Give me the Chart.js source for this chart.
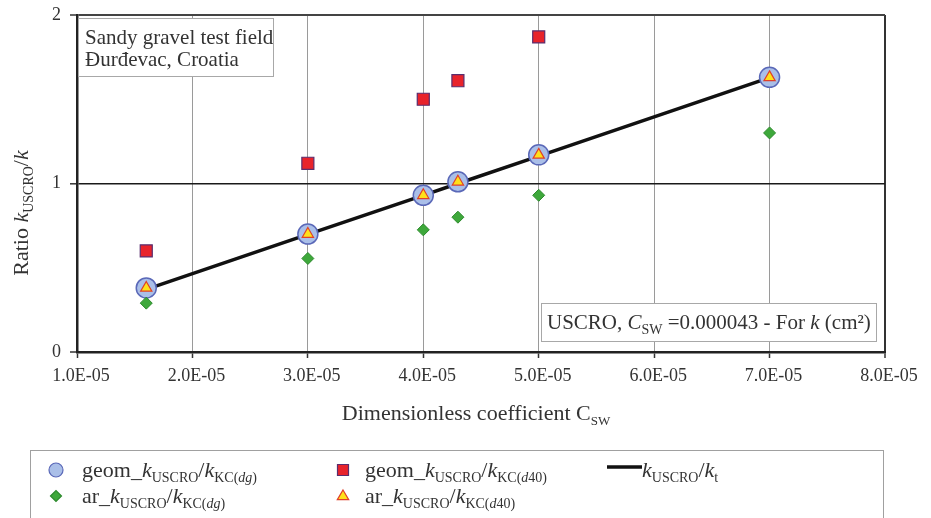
<!DOCTYPE html>
<html>
<head>
<meta charset="utf-8">
<script src="https://cdn.jsdelivr.net/npm/chart.js@4/dist/chart.umd.min.js"></script>
<style>
html,body{margin:0;padding:0;background:#fff;}
#wrap{width:931px;height:518px;position:relative;}
</style>
</head>
<body>
<div id="wrap"><canvas id="c" width="931" height="518"></canvas></div>
<script>
// ---- data ----
const csw      = [1.6e-5, 3.0e-5, 4.0e-5, 4.3e-5, 5.0e-5, 7.0e-5];
const geomDg   = [0.38, 0.70, 0.93, 1.01, 1.17, 1.63];
const geomD40  = [0.60, 1.12, 1.50, 1.61, 1.87, null];
const arDg     = [0.29, 0.555, 0.725, 0.80, 0.93, 1.30];
const arD40    = [0.38, 0.70, 0.93, 1.01, 1.17, 1.63];
const kRatioT  = [0.372, 0.698, 0.930, 1.000, 1.163, 1.628];
const xTickLabels = ['1.0E-05','2.0E-05','3.0E-05','4.0E-05','5.0E-05','6.0E-05','7.0E-05','8.0E-05'];
const yTickLabels = ['0','1','2'];

const FONT = '"Liberation Serif","Times New Roman",serif';
const TXT = '#333';

function pts(ys){ return csw.map((x,i)=>({x:x, y:ys[i]})).filter(p=>p.y!==null); }

function richWidth(ctx, parts, base, sub){
  let w=0;
  for(const p of parts){ ctx.font=(p.i?'italic ':'')+(p.s?sub:base)+'px '+FONT; w+=ctx.measureText(p.t).width; }
  return w;
}
function drawRich(ctx, x, y, parts, base, sub){
  ctx.textBaseline='alphabetic'; ctx.textAlign='left';
  let cx=x;
  for(const p of parts){
    const size=p.s?sub:base;
    ctx.font=(p.i?'italic ':'')+size+'px '+FONT;
    ctx.fillText(p.t, cx, y+(p.s?base*0.22:0));
    cx+=ctx.measureText(p.t).width;
  }
  return cx-x;
}

const legendItems = [
  {style:'circle', fill:'#aabfe8', stroke:'#5a68b8', r:7, col:0, row:0,
   parts:[{t:'geom_'},{t:'k',i:1},{t:'USCRO',s:1},{t:'/'},{t:'k',i:1},{t:'KC(',s:1},{t:'dg',s:1,i:1},{t:')',s:1}]},
  {style:'rect', fill:'#e8232b', stroke:'#5a2d6e', r:5.5, col:1, row:0,
   parts:[{t:'geom_'},{t:'k',i:1},{t:'USCRO',s:1},{t:'/'},{t:'k',i:1},{t:'KC(',s:1},{t:'d',s:1,i:1},{t:'40)',s:1}]},
  {style:'line', col:2, row:0,
   parts:[{t:'k',i:1},{t:'USCRO',s:1},{t:'/'},{t:'k',i:1},{t:'t',s:1}]},
  {style:'diamond', fill:'#3ea83b', stroke:'#2d8a2d', r:5.5, col:0, row:1,
   parts:[{t:'ar_'},{t:'k',i:1},{t:'USCRO',s:1},{t:'/'},{t:'k',i:1},{t:'KC(',s:1},{t:'dg',s:1,i:1},{t:')',s:1}]},
  {style:'triangle', fill:'#ffe01a', stroke:'#e0402a', r:6, col:1, row:1,
   parts:[{t:'ar_'},{t:'k',i:1},{t:'USCRO',s:1},{t:'/'},{t:'k',i:1},{t:'KC(',s:1},{t:'d',s:1,i:1},{t:'40)',s:1}]}
];

function drawMarker(ctx, it, x, y){
  ctx.save();
  ctx.fillStyle=it.fill; ctx.strokeStyle=it.stroke; ctx.lineWidth=1.2;
  ctx.beginPath();
  if(it.style==='circle'){ ctx.arc(x,y,it.r,0,Math.PI*2); }
  else if(it.style==='rect'){ ctx.rect(x-it.r,y-it.r,2*it.r,2*it.r); }
  else if(it.style==='diamond'){ ctx.moveTo(x-it.r,y); ctx.lineTo(x,y-it.r); ctx.lineTo(x+it.r,y); ctx.lineTo(x,y+it.r); ctx.closePath(); }
  else if(it.style==='triangle'){ ctx.moveTo(x,y-it.r); ctx.lineTo(x+it.r*0.95,y+it.r*0.6); ctx.lineTo(x-it.r*0.95,y+it.r*0.6); ctx.closePath(); }
  ctx.fill(); ctx.stroke();
  ctx.restore();
}

const decor = {
  id:'decor',
  beforeDatasetsDraw(chart){
    const ctx=chart.ctx;
    ctx.save();
    // annotation box 1
    ctx.fillStyle='#fff'; ctx.strokeStyle='#a8a8a8'; ctx.lineWidth=1;
    ctx.fillRect(78,18,195,58); ctx.strokeRect(78.5,18.5,195,58);
    ctx.fillStyle=TXT; ctx.font='21px '+FONT; ctx.textBaseline='alphabetic'; ctx.textAlign='left';
    ctx.fillText('Sandy gravel test field', 85, 44);
    ctx.fillText('\u0110ur\u0111evac, Croatia', 85, 66);
    // annotation box 2
    ctx.fillStyle='#fff';
    ctx.fillRect(541,303,335,38); ctx.strokeRect(541.5,303.5,335,38);
    ctx.fillStyle=TXT;
    drawRich(ctx, 547, 329, [{t:'USCRO, '},{t:'C',i:1},{t:'SW',s:1},{t:' =0.000043 - For '},{t:'k',i:1},{t:' (cm\u00b2)'}], 21, 14);
    ctx.restore();
  },
  afterDraw(chart){
    const ctx=chart.ctx;
    ctx.save();
    ctx.fillStyle=TXT;
    // x title
    const xp=[{t:'Dimensionless coefficient C'},{t:'SW',s:1}];
    const xw=richWidth(ctx,xp,22,13);
    drawRich(ctx, 476-xw/2, 420, xp, 22, 13);
    // y title
    const yp=[{t:'Ratio '},{t:'k',i:1},{t:'USCRO',s:1},{t:'/'},{t:'k',i:1}];
    const yw=richWidth(ctx,yp,22,14);
    ctx.translate(28,213); ctx.rotate(-Math.PI/2);
    drawRich(ctx, -yw/2, 0, yp, 22, 14);
    ctx.restore();
    // legend
    ctx.save();
    ctx.strokeStyle='#a0a0a0'; ctx.lineWidth=1;
    ctx.strokeRect(30.5,450.5,853,80);
    const colMarker=[56,343,607], colText=[82,365,642], rowY=[470,496], rowBase=[477,503];
    for(const it of legendItems){
      const mx=colMarker[it.col], my=rowY[it.row];
      if(it.style==='line'){
        ctx.save(); ctx.strokeStyle='#111'; ctx.lineWidth=3.5;
        ctx.beginPath(); ctx.moveTo(607,467); ctx.lineTo(642,467); ctx.stroke(); ctx.restore();
      } else drawMarker(ctx,it,mx,my);
      ctx.fillStyle=TXT;
      drawRich(ctx, colText[it.col], rowBase[it.row], it.parts, 22, 14);
    }
    ctx.restore();
  }
};

new Chart(document.getElementById('c'), {
  type:'scatter',
  data:{
    datasets:[
      {label:'ar_k/kKC(d40)', data:pts(arD40), order:0, pointStyle:'triangle', pointRadius:6.5,
       backgroundColor:'#ffe01a', borderColor:'#e0402a', borderWidth:1.2},
      {label:'ar_k/kKC(dg)', data:pts(arDg), order:1, pointStyle:'rectRot', pointRadius:6,
       backgroundColor:'#3ea83b', borderColor:'#2d8a2d', borderWidth:1},
      {label:'geom_k/kKC(d40)', data:pts(geomD40), order:2, pointStyle:'rect', pointRadius:8.5,
       backgroundColor:'#e8232b', borderColor:'#5a2d6e', borderWidth:1.2},
      {label:'geom_k/kKC(dg)', data:pts(geomDg), order:3, pointStyle:'circle', pointRadius:10,
       backgroundColor:'#aabfe8', borderColor:'#5a68b8', borderWidth:1.5},
      {label:'k/kt', data:pts(kRatioT), order:4, showLine:true, pointRadius:0,
       borderColor:'#111', borderWidth:3.5, backgroundColor:'#111'}
    ]
  },
  options:{
    responsive:false, animation:false,
    layout:{padding:{top:15,right:46,left:0,bottom:0}},
    plugins:{legend:{display:false}, tooltip:{enabled:false}},
    scales:{
      x:{
        type:'linear', min:1e-5, max:8e-5,
        afterFit(s){ s.height=166; s.paddingLeft=0; s.paddingRight=0; },
        afterBuildTicks(s){ s.ticks = xTickLabels.map((l,i)=>({value:1e-5*(i+1)})); },
        ticks:{ stepSize:1e-5, color:TXT, font:{family:FONT,size:18}, padding:7, labelOffset:4, maxRotation:0,
          callback:(v,i)=>xTickLabels[i] },
        grid:{
          color:c=>c.index===0?'rgba(0,0,0,0)':(c.index===7?'#333':'#9a9a9a'),
          lineWidth:c=>c.index===7?2:1,
          tickColor:'#333', tickLength:6, tickWidth:1.5
        },
        border:{color:'#222', width:2.5}
      },
      y:{
        type:'linear', min:0, max:2,
        afterFit(s){ s.width=77; s.paddingTop=0; s.paddingBottom=0; },
        afterBuildTicks(s){ s.ticks = yTickLabels.map((l,i)=>({value:i})); },
        ticks:{ stepSize:1, color:TXT, font:{family:FONT,size:18}, padding:9,
          callback:(v,i)=>yTickLabels[i] },
        grid:{
          color:c=>c.index===1?'#1a1a1a':(c.index===2?'#444':'rgba(0,0,0,0)'),
          lineWidth:c=>c.index===1?1.6:2,
          tickColor:'#333', tickLength:7, tickWidth:1.5
        },
        border:{color:'#222', width:2.5}
      }
    }
  },
  plugins:[decor]
});
</script>
</body>
</html>
